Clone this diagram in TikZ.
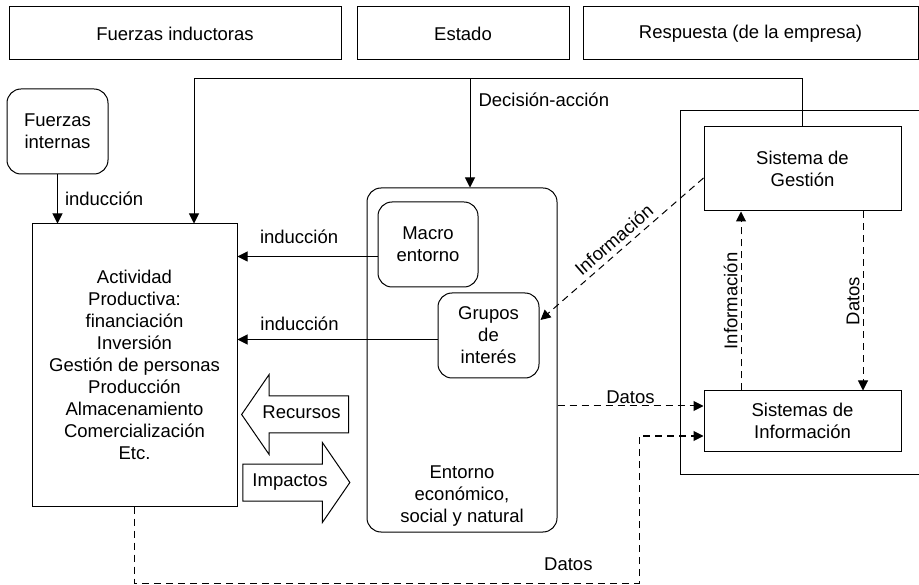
\documentclass[tikz,border=0pt]{standalone}
\usepackage{fontspec}
\setmainfont{Liberation Sans}
\usetikzlibrary{shapes.arrows, arrows.meta, positioning, calc}

\begin{document}
\begin{tikzpicture}[
    x=1pt, y=-1pt,
    font=\fontsize{18.5}{22}\selectfont,
    box/.style={rectangle, draw, line width=1pt, align=center, inner sep=2pt},
    rbox/.style={box, rounded corners=14pt},
    bigarr/.style={single arrow, draw, line width=1pt, single arrow head extend=21.5pt,
        single arrow tip angle=111, text height=12pt, text depth=4pt, inner ysep=10pt,
        inner xsep=3pt, minimum height=107pt},
    arr/.style={-{Triangle[length=10pt, width=10pt]}, line width=1pt},
    darr/.style={arr, dash pattern=on 7pt off 5pt},
    lbl/.style={inner sep=2pt},
    vlbl/.style={rotate=90, anchor=south, inner sep=3pt}
]
    \useasboundingbox (0,0) rectangle (919,585);
    \clip (0,0) rectangle (919,585);

    % header row
    \node[box, minimum width=332pt, minimum height=53pt] (fuerzas) at (175,33.5) {Fuerzas inductoras};
    \node[box, minimum width=212pt, minimum height=53pt] (estado) at (463,33.5) {Estado};
    \node[box, minimum width=335pt, minimum height=53pt] (respuesta) at (750.5,33.5) {Respuesta (de la empresa)};

    % left column
    \node[rbox, minimum width=101pt, minimum height=85pt] (internas) at (57.5,131.5) {Fuerzas\\internas};
    \node[box, minimum width=205pt, minimum height=282pt] (actividad) at (134.5,365)
        {Actividad\\Productiva:\\financiación\\Inversión\\Gestión de personas\\Producción\\Almacenamiento\\Comercialización\\Etc.};

    % entorno
    \node[rbox, minimum width=190pt, minimum height=344pt] (entorno) at (462,360) {};
    \node[lbl, align=center, above=4pt of entorno.south] (entornotxt) {Entorno\\económico,\\social y natural};
    \node[rbox, minimum width=100pt, minimum height=85pt] (macro) at (428,244.5) {Macro\\entorno};
    \node[rbox, minimum width=101pt, minimum height=85pt] (grupos) at (488.5,335.5) {Grupos\\de\\interés};

    % recursos / impactos
    \node[bigarr, shape border rotate=180] (recursos) at (301.5,414.5) {Recursos};
    \node[bigarr] (impactos) at (290,482.5) {Impactos};

    % empresa
    \node[box, minimum width=260pt, minimum height=363pt] (empresa) at (810,292.5) {};
    \node[box, minimum width=197pt, minimum height=84pt] (gestion) at (802.5,169) {Sistema de\\Gestión};
    \node[box, minimum width=197pt, minimum height=60pt] (sisinfo) at (802.5,421) {Sistemas de\\Información};

    \coordinate (loop) at (194,79);
    \coordinate (decision) at (470,79);
    \coordinate (rodeo) at (639,583);
    \coordinate (m) at ($(macro.west)+(0,12)$);
    \coordinate (g) at ($(grupos.west)+(0,4)$);
    \coordinate (ga) at ($(gestion.west)+(0,9)$);
    \coordinate (gb) at ($(grupos.east)+(1,-15.5)$);
    \coordinate (sa) at ($(sisinfo.west)+(0,-15)$);
    \coordinate (sb) at ($(sisinfo.west)+(0,15)$);
    \coordinate (ia) at ($(sisinfo.north)+(-61.5,0)$);
    \coordinate (da) at ($(gestion.south)+(60.5,0)$);

    % induccion arrows
    \draw[arr] (internas) -- node[right=5pt, lbl] {inducción} (internas |- actividad.north);
    \draw[arr] (m) -- node[above=10pt, lbl, pos=0.56] {inducción} (m -| actividad.east);
    \draw[arr] (g) -- node[above=6pt, lbl, pos=0.69] {inducción} (g -| actividad.east);

    % decision loop
    \draw[arr] (gestion.north) |- (loop) -- (loop |- actividad.north);
    \draw[arr] (decision) -- node[right=6pt, lbl, pos=0.19] {Decisión-acción} (decision |- entorno.north);

    % informacion / datos
    \draw[darr] (ga) -- node[sloped, above=3pt, lbl] {Información} (gb);
    \draw[darr] (sa -| entorno.east) -- node[above, lbl] {Datos} (sa);
    \draw[darr] (actividad.south) |- node[above=10pt, lbl, pos=0.93] {Datos} (rodeo) |- (sb);
    \draw[darr] (ia) -- node[vlbl] {Información} (ia |- gestion.south);
    \draw[darr] (da) -- node[vlbl] {Datos} (da |- sisinfo.north);
\end{tikzpicture}
\end{document}
